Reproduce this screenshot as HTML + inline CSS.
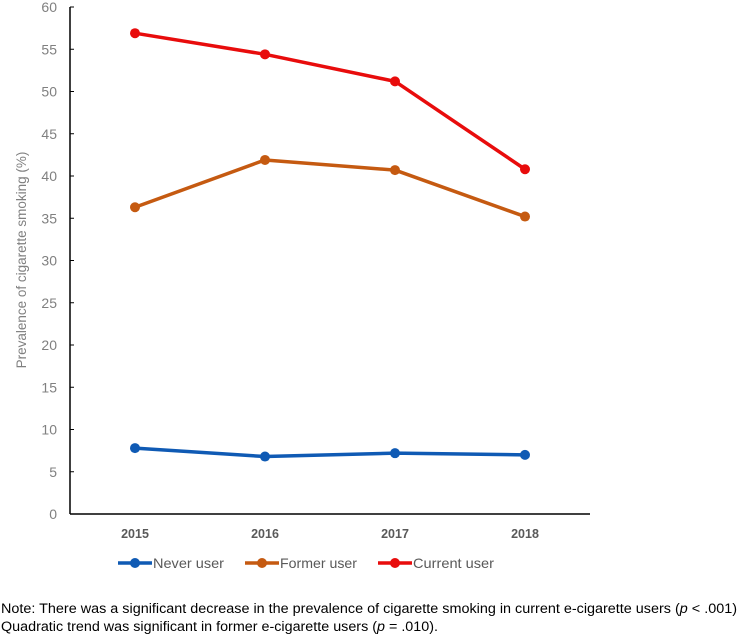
<!DOCTYPE html>
<html><head><meta charset="utf-8"><style>
body{margin:0;background:#fff;width:738px;height:638px;overflow:hidden;font-family:"Liberation Sans",Arial,sans-serif}
svg{display:block}
</style></head><body>
<svg width="738" height="638">
<g id="plot"></g>
<text transform="translate(26,260) rotate(-90)" text-anchor="middle" font-size="13.5" fill="#808080">Prevalence of cigarette smoking (%)</text>
<g font-size="14" fill="#595959">
<g><line x1="118" y1="563" x2="152" y2="563" stroke="#0F5AB4" stroke-width="3.5"/><circle cx="135" cy="563" r="5" fill="#0F5AB4"/><text x="153" y="568" textLength="71" lengthAdjust="spacingAndGlyphs">Never user</text></g>
<g><line x1="245" y1="563" x2="279" y2="563" stroke="#C55A11" stroke-width="3.5"/><circle cx="262" cy="563" r="5" fill="#C55A11"/><text x="280" y="568" textLength="77" lengthAdjust="spacingAndGlyphs">Former user</text></g>
<g><line x1="378" y1="563" x2="412" y2="563" stroke="#E80C0C" stroke-width="3.5"/><circle cx="395" cy="563" r="5" fill="#E80C0C"/><text x="413" y="568" textLength="81" lengthAdjust="spacingAndGlyphs">Current user</text></g>
</g>
<text x="1" y="613" font-size="13.5" fill="#000" textLength="736" lengthAdjust="spacingAndGlyphs">Note: There was a significant decrease in the prevalence of cigarette smoking in current e-cigarette users (<tspan font-style="italic">p</tspan> &lt; .001)</text>
<text x="1" y="631" font-size="13.5" fill="#000" textLength="437" lengthAdjust="spacingAndGlyphs">Quadratic trend was significant in former e-cigarette users (<tspan font-style="italic">p</tspan> = .010).</text>
</svg>
<script>
const categories=["2015","2016","2017","2018"];
const neverUser=[7.8,6.8,7.2,7.0];
const formerUser=[36.3,41.9,40.7,35.2];
const currentUser=[56.9,54.4,51.2,40.8];
const yTicks=[0,5,10,15,20,25,30,35,40,45,50,55,60];
const NS="http://www.w3.org/2000/svg";
const g=document.getElementById('plot');
const x0=70,x1=590,y0=514,y1=7,yMax=60;
const xs=i=>x0+(x1-x0)/categories.length*(i+0.5);
const ys=v=>y0-(y0-y1)*v/yMax;
function mk(t,a){const e=document.createElementNS(NS,t);for(const k in a)e.setAttribute(k,a[k]);g.appendChild(e);return e;}
let e=mk('line',{x1:x0,y1:y1,x2:x0,y2:y0,stroke:'#000','stroke-width':1.5});


e=mk('line',{x1:x0,y1:y0,x2:x1,y2:y0,stroke:'#000','stroke-width':1.5});


yTicks.forEach(v=>{
 e=mk('line',{x1:x0,y1:ys(v),x2:x0+4,y2:ys(v),stroke:'#000','stroke-width':1});
 
 
 e=mk('text',{x:x0-13,y:ys(v)+5,'text-anchor':'end','font-size':'14',fill:'#808080'});
 e.textContent=v;
 
 
});
categories.forEach((c,i)=>{
 e=mk('text',{x:xs(i),y:538,'text-anchor':'middle','font-size':'12.5','font-weight':'bold',fill:'#595959'});
 e.textContent=c;
 
 
});
[[neverUser,'#0F5AB4','never'],[formerUser,'#C55A11','former'],[currentUser,'#E80C0C','current']].forEach(([d,col,n])=>{
 e=mk('polyline',{points:d.map((v,i)=>xs(i)+','+ys(v)).join(' '),fill:'none',stroke:col,'stroke-width':3.5,'stroke-linejoin':'round'});
 
 
 d.forEach((v,i)=>{
  e=mk('circle',{cx:xs(i),cy:ys(v),r:5,fill:col});
  
  
 });
});
</script>
</body></html>
